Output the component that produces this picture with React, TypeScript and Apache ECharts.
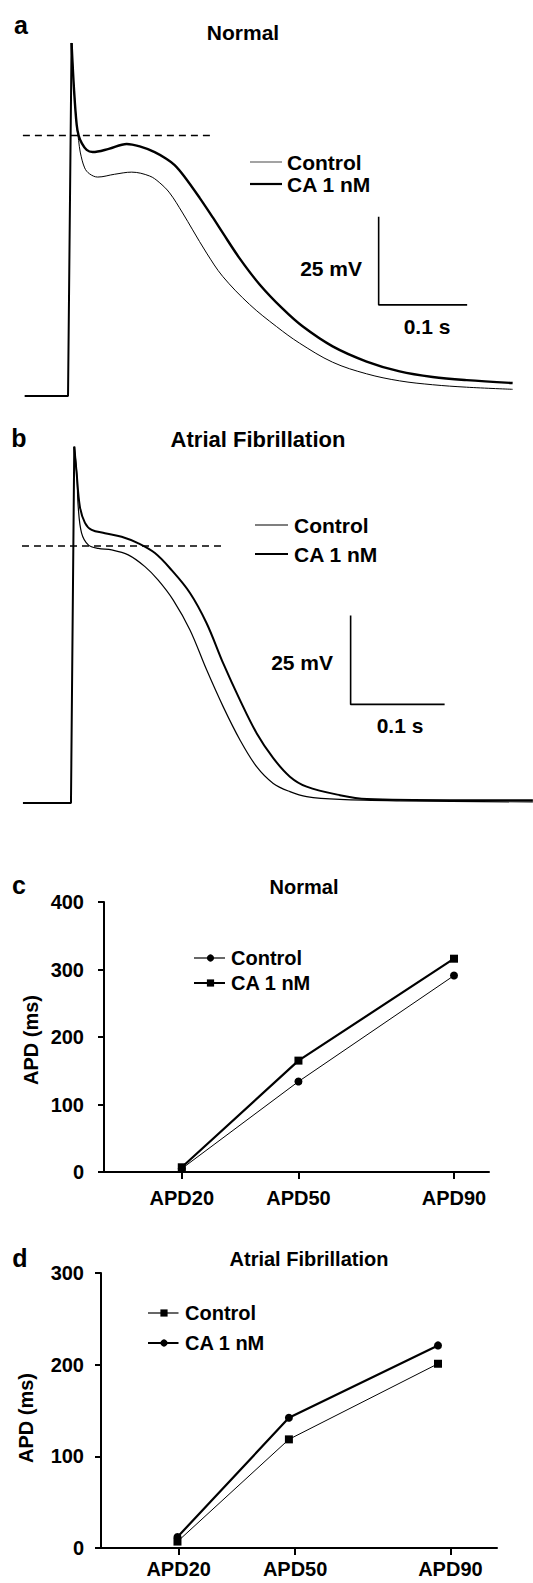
import React, { useEffect, useRef } from "react";
import * as echarts from "echarts";

const FONT = '"Liberation Sans", Arial, Helvetica, sans-serif';

// ---------- Panel a: Normal (time in ms, potential in mV) ----------
const aUpstroke = [[0, -85], [49, -85], [53, 15.3]];
const aControl = [
  [53, 15.3], [55.9, 1.6], [58.8, -8.0], [61, -12.4], [62.8, -15.7], [67.8, -20.2],
  [73.4, -21.9], [82.5, -22.8], [101.7, -22.0], [120.9, -21.4], [141.2, -22.5],
  [152, -24.3], [163.8, -27.3], [178.5, -33.0], [189.8, -37.8], [205.6, -44.4],
  [223.7, -51.0], [254.2, -59.0], [284.7, -65.3], [310.7, -70.0], [348, -75.4],
  [386.4, -78.7], [423.7, -80.7], [461, -81.8], [499.4, -82.5], [551.4, -83.1],
];
const aCA = [
  [53, 15.3], [55.9, 1.6], [58.8, -8.0], [61, -11.0], [64.4, -13.1], [70.1, -15.1],
  [76.8, -15.7], [95, -14.8], [115.3, -13.4], [130, -14.1], [146.9, -15.7],
  [160, -17.6], [169.5, -19.4], [180, -22.5], [197.7, -28.7], [212.4, -34.2],
  [223.7, -38.6], [242.9, -45.9], [265.5, -53.3], [291.5, -60.2], [314, -65.2],
  [348, -70.9], [386.4, -75.2], [423.7, -78.0], [461, -79.6], [499.4, -80.5], [551.4, -81.3],
];
const aThreshold = [[-2, -11], [212, -11]];
const aScaleBar = [[400, -34.1], [400, -59.1], [500, -59.1]];

// ---------- Panel b: Atrial Fibrillation ----------
const bUpstroke = [[0, -85], [51.1, -85], [54.6, 15.1]];
const bControl = [
  [54.6, 15.1], [57.4, 7.1], [58.8, -1.8], [62.4, -9.2], [69.5, -12.5], [80.1, -13.5],
  [94.4, -13.9], [112, -15.3], [129.8, -18.6], [143.9, -22.4], [159.9, -28.0],
  [177.7, -36.4], [195.4, -47.6], [213.1, -58.0], [230.9, -67.3], [248.6, -74.8],
  [266.3, -79.5], [284, -81.8], [301.8, -83.2], [337.2, -84.0], [401, -84.4], [542.5, -84.7],
];
const bCA = [
  [54.6, 15.1], [57.1, 7.7], [60.6, -1.8], [66, -6.3], [73.1, -8.3], [87.2, -9.2],
  [105, -10.2], [122.3, -12.0], [140.4, -14.8], [158.2, -19.6], [177.7, -26.0],
  [195.4, -34.5], [213.1, -45.8], [230.9, -56.1], [248.6, -65.4], [266.3, -72.4],
  [284, -77.6], [301.8, -80.4], [337.2, -82.8], [366, -83.9], [454, -84.2], [542.5, -84.2],
];
const bThreshold = [[-1, -12.8], [213.8, -12.8]];
const bScaleBar = [[348.6, -32.3], [348.6, -57.3], [448.6, -57.3]];

// ---------- Panel c: APD, Normal ----------
const apdLevels = [20, 50, 90];
const cControl = [5, 134, 291];
const cCA = [7, 165, 316];

// ---------- Panel d: APD, Atrial Fibrillation ----------
const dPositions = [19.7, 48.4, 86.8];
const dControl = [7, 118.5, 201];
const dCA = [12, 142, 221];

const pair = (xs: number[], ys: number[]) => xs.map((x, i) => [x, ys[i]]);

const txt = (text: string, x: number, y: number, size: number, align = "left", extra: any = {}) => ({
  type: "text",
  x,
  y,
  silent: true,
  ...extra,
  style: {
    text,
    fill: "#000",
    fontSize: size,
    fontWeight: "bold",
    fontFamily: FONT,
    align,
    verticalAlign: "middle",
  },
});

const hline = (x1: number, x2: number, y: number, w: number, color = "#000") => ({
  type: "line",
  silent: true,
  shape: { x1, y1: y, x2, y2: y },
  style: { stroke: color, lineWidth: w },
});
const dot = (cx: number, cy: number) => ({
  type: "circle",
  silent: true,
  shape: { cx, cy, r: 3.6 },
  style: { fill: "#000" },
});
const sq = (cx: number, cy: number) => ({
  type: "rect",
  silent: true,
  shape: { x: cx - 3.6, y: cy - 3.6, width: 7.2, height: 7.2 },
  style: { fill: "#000" },
});

const traceSeries = (data: number[][], idx: number, width: number, smooth: boolean, dashed = false) => ({
  type: "line",
  xAxisIndex: idx,
  yAxisIndex: idx,
  data,
  symbol: "none",
  showSymbol: false,
  silent: true,
  smooth: smooth ? 0.35 : false,
  lineStyle: { color: "#000", width, type: dashed ? [7, 5] : "solid" },
  itemStyle: { color: "#000" },
  emphasis: { disabled: true },
  z: 3,
});

const apdSeries = (data: number[][], idx: number, width: number, symbol: string) => ({
  type: "line",
  xAxisIndex: idx,
  yAxisIndex: idx,
  data,
  symbol,
  symbolSize: 8,
  showSymbol: true,
  silent: true,
  lineStyle: { color: "#000", width },
  itemStyle: { color: "#000" },
  emphasis: { disabled: true },
  z: 3,
});

const hiddenX = (min: number, max: number, gridIndex: number) => ({
  type: "value", gridIndex, min, max, show: false, splitLine: { show: false },
});
const hiddenY = (min: number, max: number, gridIndex: number) => ({
  type: "value", gridIndex, min, max, show: false, splitLine: { show: false },
});

const apdX = (gridIndex: number, max: number, margin: number) => ({
  type: "value",
  gridIndex,
  min: 0,
  max,
  splitLine: { show: false },
  axisLine: { show: true, onZero: false, lineStyle: { color: "#000", width: 2 } },
  axisTick: { show: true, customValues: apdLevels, length: 7, lineStyle: { color: "#000", width: 2 } },
  axisLabel: {
    show: true,
    customValues: apdLevels,
    formatter: (v: number) => "APD" + v,
    color: "#000",
    fontSize: 20,
    fontWeight: "bold",
    fontFamily: FONT,
    margin,
  },
});
const apdY = (gridIndex: number, max: number, margin: number) => ({
  type: "value",
  gridIndex,
  min: 0,
  max,
  interval: 100,
  splitLine: { show: false },
  axisLine: { show: true, onZero: false, lineStyle: { color: "#000", width: 2 } },
  axisTick: { show: true, length: 6, lineStyle: { color: "#000", width: 2 } },
  axisLabel: {
    color: "#000",
    fontSize: 20,
    fontWeight: "bold",
    fontFamily: FONT,
    margin,
  },
});

export default function App() {
  const ref = useRef<HTMLDivElement>(null);
  useEffect(() => {
    document.body.style.margin = "0";
    if (!ref.current) return;
    const chart = echarts.init(ref.current, null, { renderer: "svg" });
    const option: any = {
      animation: false,
      backgroundColor: "#fff",
      grid: [
        { left: 22, top: 26.4, width: 563 * 0.885, height: 110 * 3.52, containLabel: false, outerBoundsMode: "none" },
        { left: 22, top: 429.2, width: 547 * 0.94, height: 110 * 3.56, containLabel: false, outerBoundsMode: "none" },
        { left: 104, top: 902, width: 385, height: 270, containLabel: false, outerBoundsMode: "none" },
        { left: 101, top: 1273, width: 396, height: 275, containLabel: false, outerBoundsMode: "none" },
      ],
      xAxis: [hiddenX(-3, 560, 0), hiddenX(-1, 546, 1), apdX(2, 99, 16), apdX(3, 102, 11)],
      yAxis: [hiddenY(-90, 20, 0), hiddenY(-90, 20, 1), apdY(2, 400, 20), apdY(3, 300, 17)],
      series: [
        traceSeries(aUpstroke, 0, 2, false),
        traceSeries(aThreshold, 0, 1.5, false, true),
        traceSeries(aControl, 0, 1, true),
        traceSeries(aCA, 0, 2.4, true),
        traceSeries(aScaleBar, 0, 1.6, false),
        traceSeries(bUpstroke, 1, 2, false),
        traceSeries(bThreshold, 1, 1.5, false, true),
        traceSeries(bControl, 1, 1.2, true),
        traceSeries(bCA, 1, 2, true),
        traceSeries(bScaleBar, 1, 1.6, false),
        apdSeries(pair(apdLevels, cControl), 2, 1, "circle"),
        apdSeries(pair(apdLevels, cCA), 2, 2.2, "rect"),
        apdSeries(pair(dPositions, dControl), 3, 1, "rect"),
        apdSeries(pair(dPositions, dCA), 3, 2.2, "circle"),
      ],
      graphic: [
        // panel a
        txt("a", 21, 25, 25, "center"),
        txt("Normal", 243, 32, 21, "center"),
        hline(250, 282, 162, 1.2, "#666"),
        txt("Control", 287, 162, 21),
        hline(250, 282, 184, 2.2),
        txt("CA 1 nM", 287, 184, 21),
        txt("25 mV", 362, 268, 21, "right"),
        txt("0.1 s", 427, 326, 21, "center"),
        // panel b
        txt("b", 19, 438, 25, "center"),
        txt("Atrial Fibrillation", 258, 439, 22, "center"),
        hline(255, 288, 525, 1.2),
        txt("Control", 294, 525, 21),
        hline(255, 288, 554, 1.8),
        txt("CA 1 nM", 294, 554, 21),
        txt("25 mV", 333, 662, 21, "right"),
        txt("0.1 s", 400, 725, 21, "center"),
        // panel c
        txt("c", 19, 885, 25, "center"),
        txt("Normal", 304, 887, 20, "center"),
        txt("APD (ms)", 31, 1040, 20, "center", { rotation: Math.PI / 2 }),
        hline(194, 225, 958, 1.2),
        dot(210.5, 958),
        txt("Control", 231, 958, 20),
        hline(194, 225, 983, 2),
        sq(210.5, 983),
        txt("CA 1 nM", 231, 983, 20),
        // panel d
        txt("d", 20, 1258, 25, "center"),
        txt("Atrial Fibrillation", 309, 1259, 20, "center"),
        txt("APD (ms)", 26, 1418, 20, "center", { rotation: Math.PI / 2 }),
        hline(148, 178.5, 1313, 1.2),
        sq(164, 1313),
        txt("Control", 185, 1313, 20),
        hline(148, 178.5, 1343, 2),
        dot(164, 1343),
        txt("CA 1 nM", 185, 1343, 20),
      ],
    };
    chart.setOption(option);
    return () => chart.dispose();
  }, []);
  return <div ref={ref} style={{ width: 533, height: 1583 }} />;
}
